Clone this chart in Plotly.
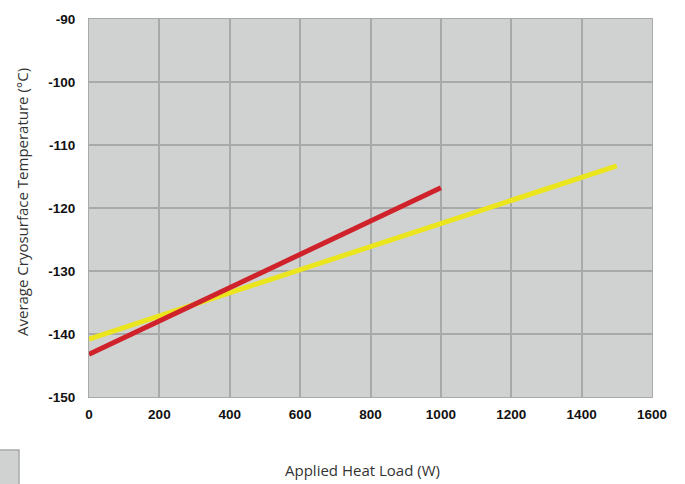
import plotly.graph_objects as go

heat_load_red = [0, 1000]
temp_red = [-143.2, -116.8]
heat_load_yellow = [0, 1500]
temp_yellow = [-140.8, -113.3]

x_ticks = [0, 200, 400, 600, 800, 1000, 1200, 1400, 1600]
y_ticks = [-150, -140, -130, -120, -110, -100, -90]
y_tick_labels = ["-150", "-140", "-130", "-120", "-110", "-100", "-90"]

fig = go.Figure()
fig.add_trace(go.Scatter(x=heat_load_yellow, y=temp_yellow, mode="lines",
                         line=dict(color="#ebe51e", width=5), showlegend=False))
fig.add_trace(go.Scatter(x=heat_load_red, y=temp_red, mode="lines",
                         line=dict(color="#d0222a", width=5), showlegend=False))

L, R, T, B = 89, 33, 19, 87
W, H = 685, 484
pw, ph = W - L - R, H - T - B

tickfont = dict(size=13.5, family="Liberation Sans, Arial", weight="bold", color="#111")

fig.update_layout(
    width=W, height=H,
    margin=dict(l=L, r=R, t=T, b=B),
    paper_bgcolor="white",
    plot_bgcolor="#d0d2d2",
    font=dict(family="Liberation Sans, Arial, sans-serif", color="#000"),
    xaxis=dict(range=[0, 1600], tickvals=x_ticks, showgrid=True, gridcolor="#a8a9a9",
               gridwidth=1.5, zeroline=False, showline=True, linecolor="#a8a9a9", mirror=True,
               ticks="outside", ticklen=5, tickcolor="rgba(0,0,0,0)", tickfont=tickfont),
    yaxis=dict(range=[-150, -90], tickvals=y_ticks, ticktext=y_tick_labels, showgrid=True,
               gridcolor="#a8a9a9", gridwidth=1.5, zeroline=False, showline=True,
               linecolor="#a8a9a9", mirror=True,
               ticks="outside", ticklen=10, tickcolor="rgba(0,0,0,0)", tickfont=tickfont),
    annotations=[
        dict(text="Average Cryosurface Temperature (°C)", xref="paper", yref="paper",
             x=(22 - L) / pw, y=(H - B - 202) / ph, textangle=-90, showarrow=False,
             xanchor="center", yanchor="middle",
             font=dict(size=15, family="Open Sans, sans-serif", color="#333")),
        dict(text="Applied Heat Load (W)", xref="paper", yref="paper",
             x=(362 - L) / pw, y=(H - B - 470) / ph, showarrow=False,
             xanchor="center", yanchor="middle",
             font=dict(size=15, family="Open Sans, sans-serif", color="#333")),
    ],
    shapes=[
        dict(type="rect", xref="paper", yref="paper",
             x0=(-2 - L) / pw, x1=(19 - L) / pw, y0=(H - B - 486) / ph, y1=(H - B - 450) / ph,
             fillcolor="#d0d2d2", line=dict(color="#a8a9a9", width=1.5)),
    ],
)

fig.write_html("out.html", config={"displayModeBar": False},
               post_script="document.body.style.margin='0';")
